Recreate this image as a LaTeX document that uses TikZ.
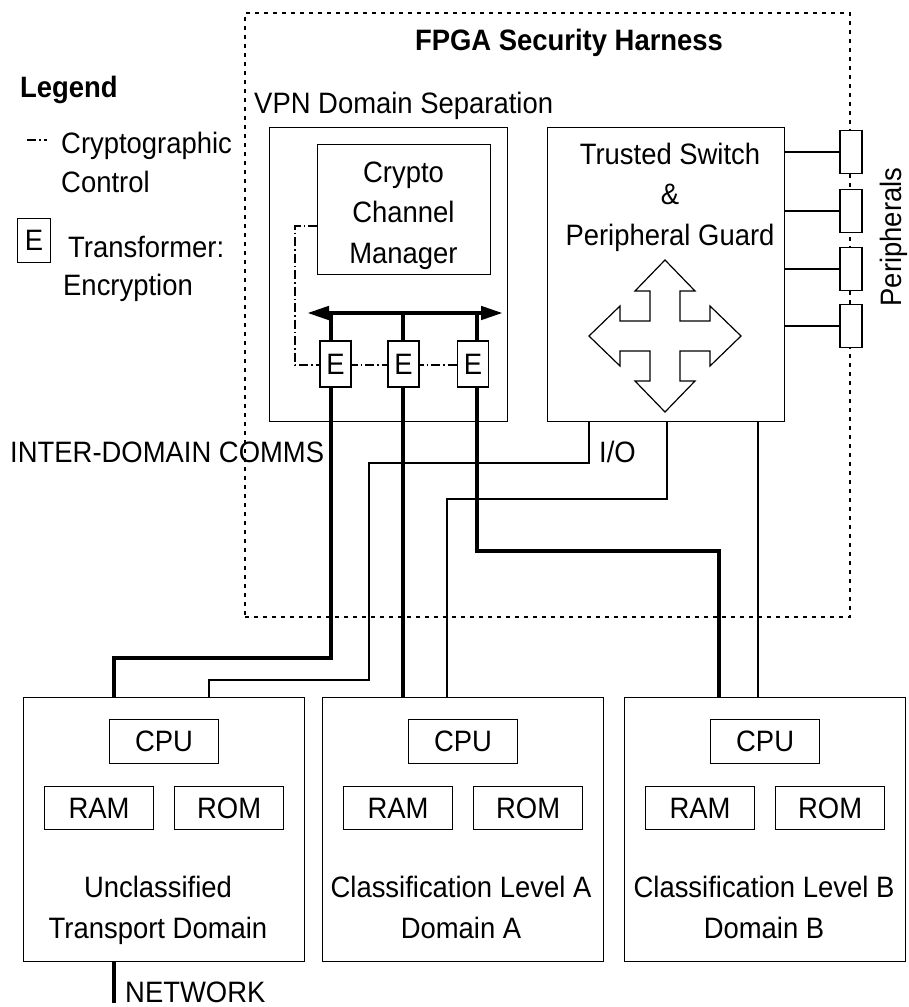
\documentclass[tikz,border=0pt]{standalone}
\usepackage{fontspec}
\setmainfont{Liberation Sans}[FakeStretch=0.93]
\usetikzlibrary{arrows.meta}
\pgfdeclarelayer{background}
\pgfsetlayers{background,main}
\newcommand\myfs{\fontsize{29.5}{40.5}\selectfont}
\begin{document}
\begin{tikzpicture}[x=1pt,y=-1pt,
  bx/.style={draw, line width=1.2pt, inner sep=0pt, font=\myfs},
  txt/.style={inner sep=0pt, font=\myfs},
  mtxt/.style={inner sep=0pt, font=\myfs, align=center},
  thinln/.style={line width=1.2pt},
  thickln/.style={line width=4.5pt},
  ctrl/.style={line width=1.2pt, dash pattern=on 9pt off 3pt on 1.5pt off 3pt},
  fpgaln/.style={draw, line width=1.5pt, dash pattern=on 4pt off 5pt, inner sep=0pt}]
\useasboundingbox (0,0) rectangle (908,1007);

% FPGA harness
\node[fpgaln, minimum width=605pt, minimum height=604pt, anchor=north west] (fpga) at (244,12) {};
\node[txt, font=\myfs\bfseries, anchor=base] (title) at (569,50) {FPGA Security Harness};
\node[txt, anchor=base west] (vpnlbl) at (254,113) {VPN Domain Separation};

% VPN domain separation
\node[bx, minimum width=238pt, minimum height=294pt, anchor=north west] (vpn) at (269,127) {};
\node[bx, minimum width=173pt, minimum height=130pt, anchor=north west] (ccm) at (317,144) {};
\node[mtxt, anchor=base] (ccmtxt) at (403.5,263) {Crypto\\Channel\\Manager};

% Trusted switch
\node[bx, minimum width=237pt, minimum height=294pt, anchor=north west] (sw) at (547,127) {};
\node[mtxt, anchor=base] (swtxt) at (670,245) {Trusted Switch\\\&\\Peripheral Guard};
\draw[thinln, shift={(665,336)}] (0,-76) -- (30,-45) -- (15,-45) -- (15,-15) -- (45,-15) -- (45,-30) -- (76,0)
  -- (45,30) -- (45,15) -- (15,15) -- (15,45) -- (30,45) -- (0,76) -- (-30,45) -- (-15,45) -- (-15,15)
  -- (-45,15) -- (-45,30) -- (-76,0) -- (-45,-30) -- (-45,-15) -- (-15,-15) -- (-15,-45) -- (-30,-45) -- cycle;

% Peripherals
\foreach \i/\y in {1/152,2/211,3/269,4/326}{
  \node[bx, fill=white, minimum width=22pt, minimum height=43pt] (p\i) at (851,\y) {};
  \draw[thinln] (sw.east |- p\i.west) -- (p\i.west);
}
\node[txt, rotate=90] (perlbl) at (894,237) {Peripherals};

% Bus and transformers
\coordinate (busl) at (307,313);
\coordinate (busr) at (503,313);
\coordinate (j1) at (331,313);
\coordinate (j2) at (403,313);
\coordinate (j3) at (477,313);
\draw[thickln, {Triangle[length=22pt,width=13pt]}-{Triangle[length=22pt,width=13pt]}] (busl) -- (busr);
\node[bx, fill=white, minimum width=31pt, minimum height=46pt] (e1) at (335.5,364) {E};
\node[bx, fill=white, minimum width=31pt, minimum height=46pt] (e2) at (403.5,364) {E};
\node[bx, fill=white, minimum width=31pt, minimum height=46pt] (e3) at (473,364) {E};

% Domains
\node[bx, minimum width=281pt, minimum height=264pt, anchor=north west] (d1) at (23,697) {};
\node[bx, minimum width=281pt, minimum height=264pt, anchor=north west] (d2) at (322,697) {};
\node[bx, minimum width=281pt, minimum height=264pt, anchor=north west] (d3) at (624,697) {};
\node[bx, minimum width=109pt, minimum height=44pt, anchor=north west] (cpu1) at (109,719) {CPU};
\node[bx, minimum width=109pt, minimum height=43pt, anchor=north west] (ram1) at (44,786) {RAM};
\node[bx, minimum width=109pt, minimum height=43pt, anchor=north west] (rom1) at (174,786) {ROM};
\node[bx, minimum width=109pt, minimum height=44pt, anchor=north west] (cpu2) at (408,719) {CPU};
\node[bx, minimum width=109pt, minimum height=43pt, anchor=north west] (ram2) at (343,786) {RAM};
\node[bx, minimum width=109pt, minimum height=43pt, anchor=north west] (rom2) at (473,786) {ROM};
\node[bx, minimum width=109pt, minimum height=44pt, anchor=north west] (cpu3) at (710,719) {CPU};
\node[bx, minimum width=109pt, minimum height=43pt, anchor=north west] (ram3) at (645,786) {RAM};
\node[bx, minimum width=109pt, minimum height=43pt, anchor=north west] (rom3) at (775,786) {ROM};
\node[mtxt, anchor=base] (d1txt) at (158,938) {Unclassified\\Transport Domain};
\node[mtxt, anchor=base] (d2txt) at (461,938) {Classification Level A\\Domain A};
\node[mtxt, anchor=base] (d3txt) at (764,938) {Classification Level B\\Domain B};

% Other labels
\node[txt, anchor=base west] (idc) at (10,462) {INTER-DOMAIN COMMS};
\node[txt, anchor=base west] (io) at (599,462) {I/O};
\node[txt, anchor=base west] (net) at (125,1002) {NETWORK};
\coordinate (netend) at (114,1003);

% Legend
\node[txt, font=\myfs\bfseries, anchor=base west] (leg) at (20,97) {Legend};
\coordinate (lga) at (27,140);
\coordinate (lgb) at (47,140);
\draw[ctrl] (lga) -- (lgb);
\node[txt, anchor=base west] (lg1) at (61,153) {Cryptographic};
\node[txt, anchor=base west] (lg2) at (61,192) {Control};
\node[bx, minimum width=33pt, minimum height=44pt, anchor=north west] (lge) at (17,218) {E};
\node[txt, anchor=base west] (lg3) at (68,257) {Transformer:};
\node[txt, anchor=base west] (lg4) at (63,295) {Encryption};

% Connectors
\begin{pgfonlayer}{background}
\draw[thickln] (j1) -- (331,658) -- (114,658) -- (114,0 |- d1.north);
\draw[thickln] (j2) -- (403,0 |- d2.north);
\draw[thickln] (j3) -- (477,551) -- (719,551) -- (719,0 |- d3.north);
\draw[thickln] (114,0 |- d1.south) -- (netend);
\draw[thinln] (589,0 |- sw.south) -- (589,463) -- (369,463) -- (369,680) -- (209,680) -- (209,0 |- d1.north);
\draw[thinln] (667,0 |- sw.south) -- (667,499) -- (447,499) -- (447,0 |- d2.north);
\draw[thinln] (758,0 |- sw.south) -- (758,0 |- d3.north);
\draw[ctrl] (ccm.west |- 0,226) -- (295,226) -- (295,365) -- (e3.east |- 0,365);
\end{pgfonlayer}
\end{tikzpicture}
\end{document}
